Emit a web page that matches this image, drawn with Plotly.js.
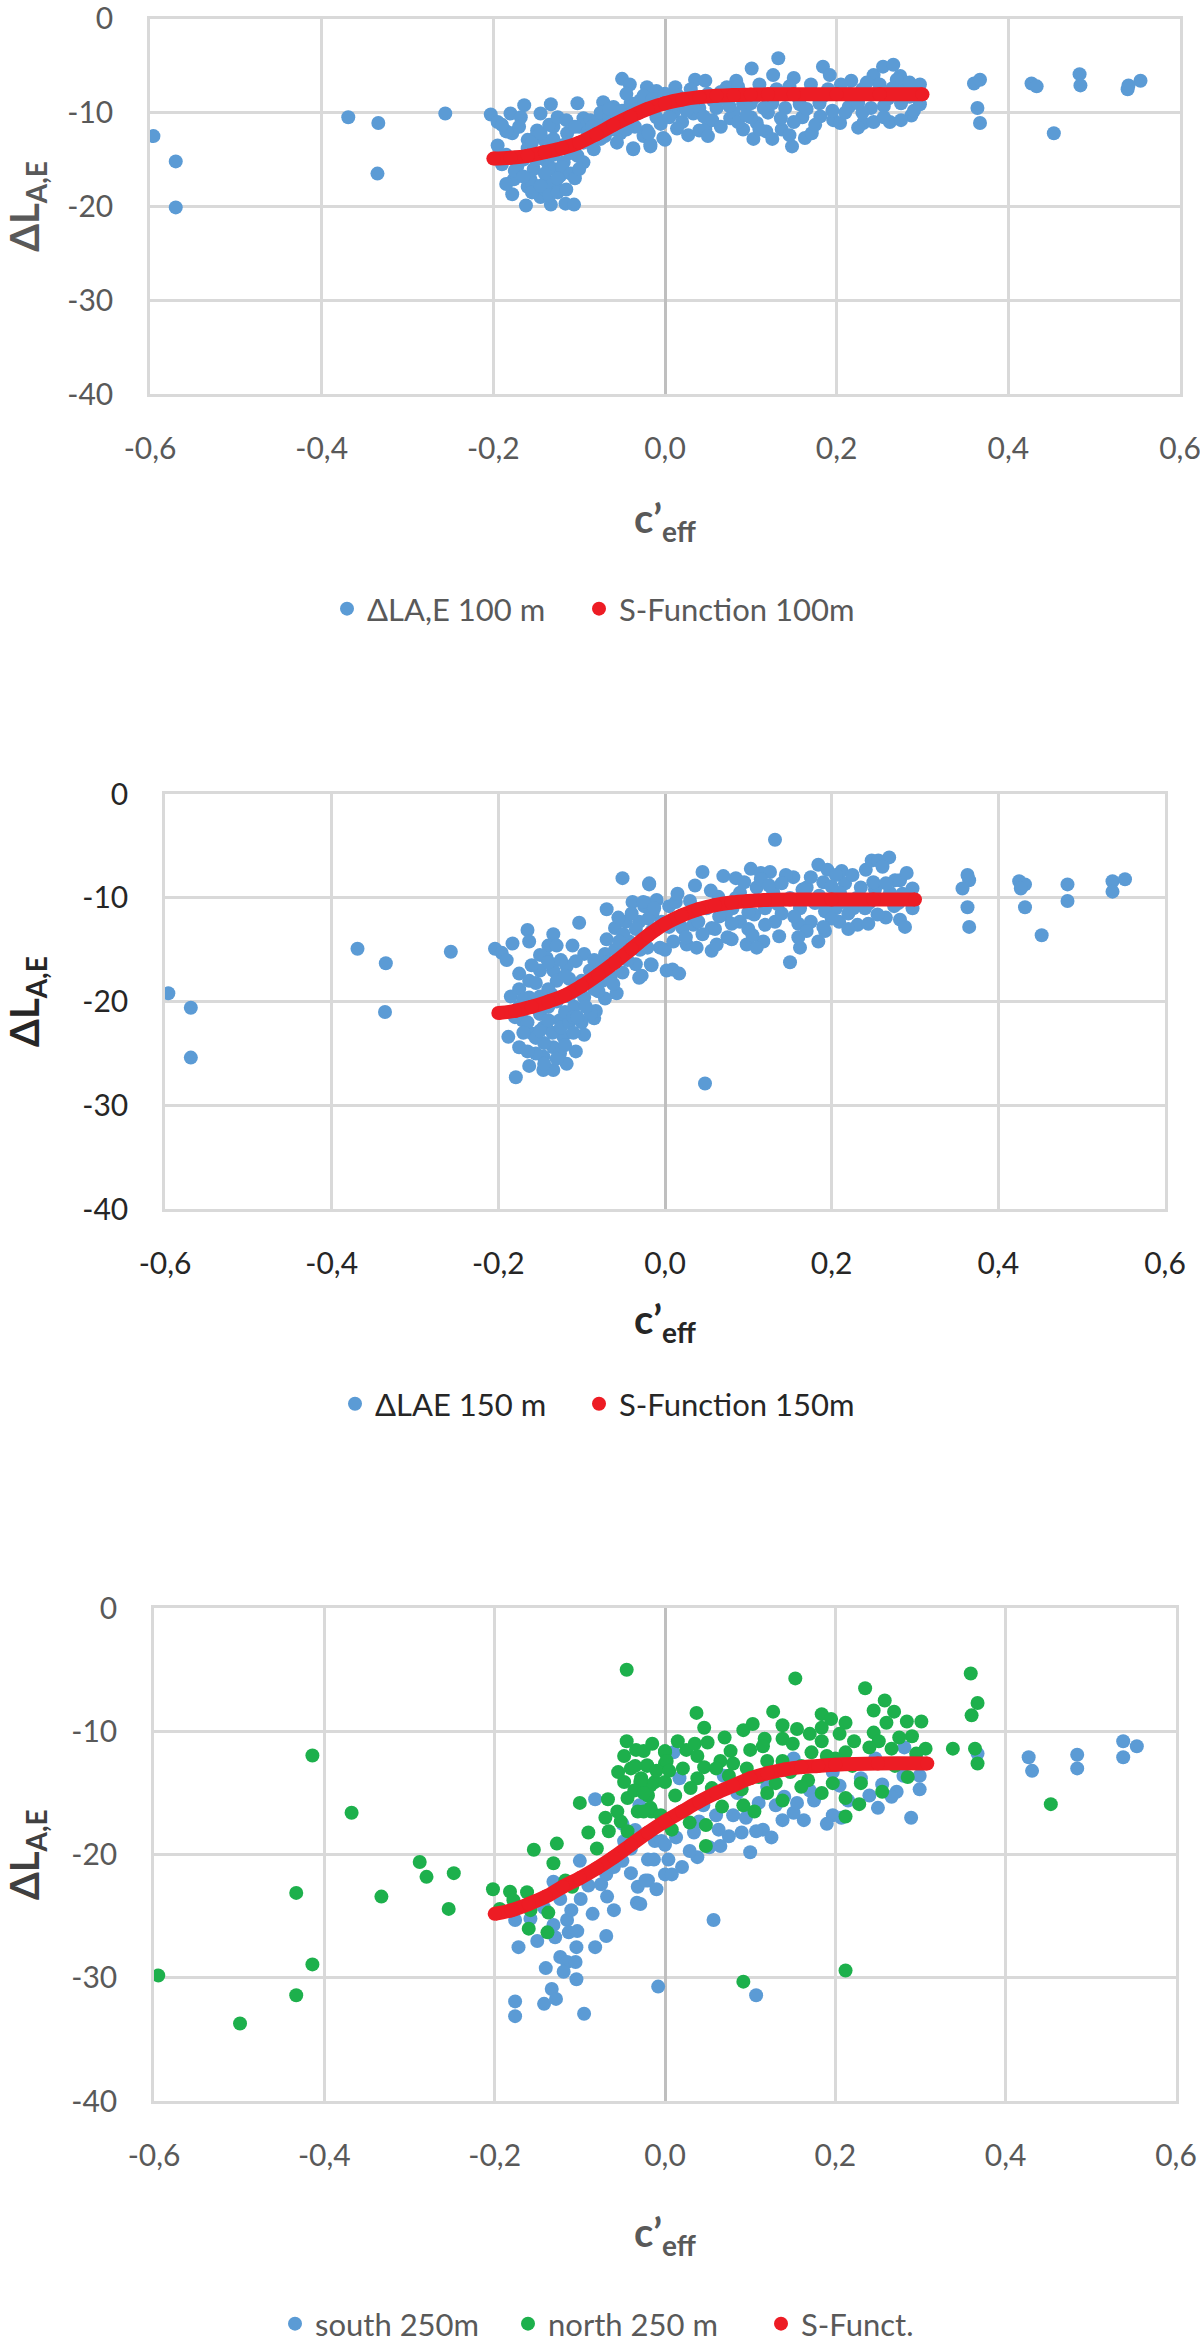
<!DOCTYPE html>
<html>
<head>
<meta charset="utf-8">
<script src="https://cdn.plot.ly/plotly-3.0.1.min.js"></script>
<style>
  html, body { margin: 0; padding: 0; background: #fff; }
  #plotly__graph { width: 1200px; height: 2351px; }
</style>
</head>
<body>
<div id="plotly__graph"></div>
<script>
// **********************************************************************************************
// DATA

const xTickVals = [-0.6, -0.4, -0.2, 0.0, 0.2, 0.4, 0.6];
const xTickText = ['-0,6', '-0,4', '-0,2', '0,0', '0,2', '0,4', '0,6'];
const yTickVals = [0, -10, -20, -30, -40];
const yTickText = ['0', '-10', '-20', '-30', '-40'];

// panel 1 : ΔLA,E 100 m  [c'eff, ΔL]
const blue100 = [
    [-0.596,-12.5],[-0.57,-15.2],[-0.57,-20.1],[-0.369,-10.5],[-0.334,-11.1],[-0.335,-16.5],[-0.256,-10.1],
    [-0.203,-10.2],[-0.195,-11.0],[-0.18,-10.1],[-0.178,-12.2],[-0.164,-9.2],[-0.168,-10.5],[-0.16,-12.9],
    [-0.145,-10.1],[-0.133,-9.1],[-0.149,-11.9],[-0.13,-11.5],[-0.114,-12.2],[-0.102,-9.0],[-0.095,-10.6],
    [-0.087,-10.8],[-0.176,-17.1],[-0.178,-18.7],[-0.162,-19.9],[-0.133,-19.8],[-0.116,-19.7],[-0.106,-19.8],
    [-0.16,-17.9],[-0.145,-19.0],[-0.128,-17.7],[-0.122,-16.7],[-0.153,-16.0],[-0.137,-15.3],[-0.145,-14.6],
    [-0.172,-15.7],[-0.118,-15.3],[-0.102,-14.6],[-0.095,-15.3],[-0.106,-13.9],[-0.114,-13.2],[-0.13,-16.0],
    [-0.137,-17.4],[-0.157,-17.1],[-0.083,-13.9],[-0.091,-12.9],[-0.072,-8.9],[-0.06,-9.4],[-0.05,-6.4],
    [-0.041,-7.0],[-0.037,-13.8],[-0.017,-13.6],[-0.021,-11.9],[-0.029,-8.7],[-0.021,-7.3],[-0.01,-7.7],
    [-0.052,-12.2],[-0.056,-13.2],[-0.068,-11.2],[-0.044,-10.5],[0.0,-12.9],[0.002,-9.1],[0.012,-7.3],
    [0.027,-12.4],[0.035,-6.5],[0.04,-11.9],
    [-0.15,-12.5],[-0.14,-13.0],[-0.13,-12.8],[-0.12,-13.5],[-0.15,-15.0],[-0.14,-16.5],[-0.13,-14.5],
    [-0.12,-15.8],[-0.11,-16.5],[-0.125,-17.0],[-0.14,-18.2],[-0.155,-17.5],[-0.16,-13.8],[-0.17,-11.5],
    [-0.185,-12.0],[-0.19,-15.5],[-0.175,-14.8],[-0.1,-11.5],[-0.09,-12.0],[-0.08,-11.0],[-0.075,-10.0],
    [-0.065,-10.5],[-0.07,-12.5],[-0.06,-11.8],[-0.05,-9.8],[-0.04,-9.0],[-0.03,-10.0],[-0.02,-9.5],
    [-0.01,-10.5],[0.0,-8.0],[0.01,-10.0],[0.02,-11.0],[-0.045,-8.0],[-0.035,-11.5],[-0.025,-12.5],
    [-0.195,-13.5],[-0.185,-14.5],[-0.175,-16.2],[-0.165,-16.8],[-0.155,-18.5],[-0.145,-17.8],[-0.135,-18.8],
    [-0.125,-18.5],[-0.115,-18.2],[-0.105,-17.0],[-0.155,-13.2],[-0.145,-12.2],[-0.135,-11.3],[-0.125,-10.5],
    [-0.115,-10.8],[-0.105,-11.5],[-0.095,-13.2],[-0.085,-11.5],[-0.075,-12.8],[-0.065,-9.6],[-0.055,-10.6],
    [-0.045,-11.8],[-0.035,-9.7],[-0.025,-8.2],[-0.015,-8.6],[-0.005,-11.2],[-0.11,-14.3],[-0.1,-16.0],
    [-0.125,-14.0],[-0.165,-15.0],[-0.185,-17.6],[-0.19,-11.3],
    [-0.037,-13.9],[-0.017,-13.4],[-0.019,-12.2],[-0.002,-12.7],[0.014,-11.7],[0.047,-6.6],[0.047,-11.8],
    [0.017,-9.1],[0.033,-10.1],[0.056,-8.7],[0.076,-10.6],[0.083,-6.6],[0.091,-11.8],[0.101,-5.3],
    [0.107,-11.1],[0.103,-12.8],[0.118,-12.0],[0.126,-6.0],[0.132,-4.2],[0.136,-11.8],[0.148,-13.6],
    [0.15,-6.3],[0.163,-12.7],[0.171,-12.2],[0.181,-10.4],[0.184,-5.1],[0.192,-6.0],[0.196,-10.8],
    [0.204,-11.1],[0.214,-9.4],[0.217,-6.6],[0.231,-11.1],[0.243,-11.0],[0.243,-6.0],[0.254,-5.1],
    [0.266,-4.9],[0.262,-11.0],[0.274,-6.1],[0.287,-10.3],[0.297,-7.0],[0.297,-9.1],[0.157,-9.1],
    [0.142,-8.0],[0.091,-9.1],[0.072,-7.3],
    [0.06,-9.5],[0.08,-10.0],[0.1,-9.0],[0.12,-8.5],[0.14,-9.5],[0.16,-10.5],[0.18,-9.0],[0.2,-8.0],
    [0.22,-8.5],[0.24,-9.5],[0.26,-8.5],[0.28,-7.5],[0.25,-7.0],[0.27,-6.5],[0.23,-7.5],[0.19,-7.5],
    [0.17,-7.0],[0.13,-7.5],[0.11,-7.0],[0.09,-8.0],[0.07,-8.5],[0.05,-8.0],[0.03,-7.5],[0.02,-8.5],
    [0.1,-10.5],[0.12,-10.0],[0.15,-11.0],[0.21,-10.0],[0.23,-10.0],[0.29,-9.8],[0.285,-8.3],
    [0.055,-10.8],[0.04,-9.5],[0.085,-11.0],[0.115,-9.5],
    [0.005,-10.5],[0.015,-8.2],[0.025,-9.8],[0.035,-8.9],[0.045,-10.4],[0.065,-7.8],[0.075,-9.3],
    [0.085,-7.2],[0.095,-10.3],[0.105,-8.3],[0.11,-11.8],[0.125,-9.0],[0.135,-10.6],[0.145,-7.2],
    [0.155,-8.4],[0.165,-9.6],[0.175,-11.3],[0.185,-8.2],[0.195,-9.8],[0.205,-7.0],[0.215,-8.0],
    [0.225,-9.0],[0.235,-6.8],[0.245,-8.0],[0.255,-9.3],[0.265,-7.4],[0.275,-9.0],[0.285,-6.8],
    [0.295,-8.0],[0.255,-10.5],[0.275,-10.8],[0.225,-11.6],[0.145,-12.4],[0.125,-12.8],[0.065,-11.5],
    [0.05,-12.5],
    [0.36,-6.9],[0.367,-6.5],[0.364,-9.5],[0.367,-11.1],[0.427,-6.9],[0.433,-7.2],[0.483,-5.9],
    [0.484,-7.1],[0.453,-12.2],[0.539,-7.5],[0.554,-6.6],[0.54,-7.1]
];

const sFuncX100 = [-0.2, -0.18, -0.16, -0.14, -0.12, -0.1, -0.08, -0.06, -0.04, -0.02, 0.0, 0.02, 0.04, 0.06, 0.08, 0.1, 0.12, 0.15, 0.2, 0.25, 0.3];
const sFuncY100 = [-14.9, -14.8, -14.6, -14.2, -13.8, -13.2, -12.3, -11.3, -10.4, -9.6, -9.0, -8.6, -8.35, -8.2, -8.12, -8.08, -8.05, -8.05, -8.05, -8.05, -8.05];

// panel 2 : ΔLAE 150 m
const blue150 = [
    [-0.596,-19.2],[-0.569,-20.6],[-0.569,-25.4],[-0.369,-14.9],[-0.335,-16.3],[-0.336,-21.0],[-0.257,-15.2],
    [-0.204,-14.9],[-0.196,-15.3],[-0.183,-14.4],[-0.165,-13.1],[-0.163,-14.2],[-0.134,-13.5],[-0.14,-14.6],
    [-0.13,-14.6],[-0.111,-14.6],[-0.103,-12.4],[-0.097,-15.4],[-0.107,-16.1],[-0.118,-16.6],[-0.115,-17.8],
    [-0.175,-17.3],[-0.163,-18.0],[-0.15,-17.0],[-0.134,-17.0],[-0.142,-15.8],[-0.163,-19.6],[-0.136,-19.3],
    [-0.188,-23.4],[-0.175,-24.4],[-0.163,-26.2],[-0.179,-27.3],[-0.146,-26.6],[-0.134,-26.6],[-0.118,-26.0],
    [-0.107,-24.8],[-0.097,-23.2],[-0.085,-21.6],[-0.083,-20.9],[-0.072,-19.7],[-0.058,-19.2],[-0.171,-21.8],
    [-0.159,-23.1],[-0.146,-22.5],[-0.126,-21.8],[-0.122,-23.4],[-0.134,-24.4],[-0.146,-25.3],[-0.126,-25.0],
    [-0.15,-21.2],[-0.109,-20.5],[-0.097,-19.6],[-0.089,-21.2],[-0.072,-15.4],[-0.07,-14.0],[-0.07,-11.1],
    [-0.06,-12.9],[-0.051,-8.1],[-0.019,-8.7],[-0.039,-10.4],[-0.023,-10.5],[-0.051,-17.2],[-0.031,-17.7],
    [-0.016,-16.5],[-0.035,-16.4],[-0.043,-14.2],[-0.006,-14.8],[-0.016,-13.2],[-0.031,-12.3],[0.002,-17.0],
    [-0.047,-12.3],[-0.056,-11.9],
    [-0.165,-22.0],[-0.155,-23.5],[-0.145,-24.0],[-0.135,-23.0],[-0.125,-22.5],[-0.115,-22.0],[-0.16,-20.5],
    [-0.15,-19.5],[-0.14,-20.5],[-0.13,-20.0],[-0.12,-21.0],[-0.11,-21.5],[-0.105,-19.0],[-0.1,-18.0],
    [-0.09,-17.0],[-0.085,-16.0],[-0.08,-19.0],[-0.075,-18.0],[-0.065,-17.5],[-0.06,-15.0],[-0.05,-13.5],
    [-0.04,-11.5],[-0.035,-13.0],[-0.025,-10.8],[-0.015,-11.5],[-0.01,-13.0],[0.005,-10.8],[0.015,-12.2],
    [-0.155,-25.0],[-0.145,-26.0],[-0.17,-23.0],[-0.18,-21.5],[-0.13,-18.0],[-0.12,-17.5],[-0.16,-16.5],
    [-0.15,-15.5],[-0.14,-16.2],[-0.175,-18.8],
    [-0.19,-16.0],[-0.185,-19.5],[-0.175,-20.5],[-0.165,-24.8],[-0.15,-22.8],[-0.14,-21.8],[-0.13,-25.5],
    [-0.12,-24.2],[-0.11,-23.0],[-0.1,-22.0],[-0.095,-20.5],[-0.085,-18.8],[-0.078,-16.8],[-0.07,-16.2],
    [-0.062,-18.3],[-0.055,-14.2],[-0.045,-16.0],[-0.03,-15.0],[-0.02,-12.0],[-0.01,-10.2],[-0.14,-18.8],
    [-0.155,-18.2],[-0.17,-19.8],[-0.125,-16.0],[-0.115,-19.5],[-0.105,-21.5],
    [-0.019,-8.6],[-0.026,-10.4],[-0.013,-11.0],[-0.017,-16.4],[-0.028,-17.5],[0.009,-16.9],[0.017,-17.3],
    [0.0,-15.0],[-0.021,-14.8],[0.036,-8.8],[0.045,-7.5],[0.048,-27.9],[0.013,-10.4],[0.026,-14.5],
    [0.038,-14.8],[0.056,-15.1],[0.062,-14.5],[0.056,-12.9],[0.034,-12.6],[0.064,-9.9],[0.085,-8.1],
    [0.103,-7.2],[0.115,-7.6],[0.126,-7.5],[0.132,-4.4],[0.098,-14.5],[0.118,-14.2],[0.137,-13.7],
    [0.15,-16.2],[0.162,-14.8],[0.154,-8.0],[0.145,-7.8],[0.184,-6.8],[0.184,-14.2],[0.192,-13.2],
    [0.212,-7.4],[0.216,-8.6],[0.205,-11.0],[0.209,-12.3],[0.231,-12.6],[0.244,-12.5],[0.241,-7.3],
    [0.248,-6.4],[0.256,-6.4],[0.269,-6.1],[0.261,-7.0],[0.276,-8.3],[0.282,-8.3],[0.252,-9.2],
    [0.265,-11.9],[0.282,-12.1],[0.288,-12.8],[0.297,-9.1],[0.297,-11.0],[0.107,-11.6],[0.132,-12.3],
    [0.162,-11.0],[0.081,-11.0],[0.09,-12.3],[0.073,-11.6],[0.021,-12.9],[-0.004,-12.3],[0.175,-12.3],
    [0.192,-11.3],[0.226,-11.0],
    [0.03,-11.5],[0.05,-11.0],[0.07,-10.5],[0.09,-9.5],[0.11,-9.0],[0.13,-9.5],[0.15,-10.0],[0.17,-9.0],
    [0.19,-8.5],[0.21,-9.5],[0.23,-10.0],[0.25,-8.5],[0.27,-9.5],[0.06,-13.0],[0.08,-12.5],[0.1,-13.0],
    [0.12,-11.0],[0.14,-11.5],[0.16,-12.5],[0.18,-10.5],[0.2,-12.0],[0.22,-11.5],[0.24,-11.0],[0.28,-10.5],
    [0.115,-8.2],[0.095,-8.5],[0.175,-8.0],[0.195,-7.3],[0.205,-7.8],[0.045,-13.5],[0.025,-13.8],[0.01,-14.2],
    [0.005,-12.8],[0.015,-9.6],[0.03,-10.3],[0.04,-12.3],[0.055,-9.3],[0.065,-11.8],[0.075,-13.8],
    [0.085,-10.0],[0.1,-11.4],[0.105,-13.6],[0.12,-12.6],[0.125,-8.8],[0.135,-10.6],[0.14,-8.6],
    [0.155,-11.8],[0.165,-9.2],[0.17,-13.2],[0.185,-9.8],[0.19,-12.8],[0.2,-8.9],[0.215,-10.4],
    [0.22,-13.0],[0.225,-7.8],[0.235,-9.0],[0.245,-10.5],[0.255,-11.6],[0.265,-8.6],[0.275,-10.8],
    [0.285,-9.6],[0.29,-7.6],[0.16,-13.8],[0.11,-14.8],[0.08,-14.0],[0.07,-7.9],
    [0.363,-7.8],[0.365,-8.3],[0.357,-9.1],[0.363,-10.9],[0.365,-12.8],[0.425,-8.4],[0.432,-8.7],
    [0.427,-9.1],[0.432,-10.9],[0.452,-13.6],[0.483,-8.7],[0.483,-10.3],[0.537,-8.4],[0.537,-9.4],
    [0.552,-8.2]
];

const sFuncX150 = [-0.2, -0.18, -0.16, -0.14, -0.12, -0.1, -0.08, -0.06, -0.04, -0.02, 0.0, 0.02, 0.04, 0.06, 0.08, 0.1, 0.12, 0.15, 0.2, 0.25, 0.3];
const sFuncY150 = [-21.1, -20.9, -20.5, -20.0, -19.4, -18.5, -17.4, -16.2, -14.9, -13.6, -12.5, -11.7, -11.1, -10.7, -10.45, -10.3, -10.2, -10.15, -10.15, -10.15, -10.15];

// panel 3 : south 250m / north 250 m
const south250 = [
    [-0.082,-15.5],[-0.131,-22.2],[-0.123,-23.6],[-0.099,-23.6],[-0.069,-21.6],[-0.068,-23.4],[-0.033,-23.9],
    [-0.032,-22.6],[-0.02,-22.1],[-0.02,-20.4],[-0.012,-18.9],[-0.048,-18.9],[-0.176,-25.3],[-0.172,-27.5],
    [-0.158,-25.2],[-0.131,-25.7],[-0.129,-26.7],[-0.115,-25.3],[-0.113,-26.3],[-0.103,-26.2],[-0.104,-27.5],
    [-0.082,-27.5],[-0.069,-26.6],[-0.123,-28.3],[-0.115,-28.7],[-0.105,-28.7],[-0.14,-29.2],[-0.119,-29.5],
    [-0.104,-30.1],[-0.133,-30.9],[-0.128,-31.7],[-0.142,-32.1],[-0.176,-31.9],[-0.176,-33.1],[-0.095,-32.9],
    [-0.008,-30.7],[0.0,-21.6],[-0.142,-24.3],
    [0.107,-31.4],[0.057,-25.3],[0.289,-17.0],[0.299,-14.7],[0.299,-13.6],[0.281,-11.3],[0.272,-14.9],
    [0.266,-15.3],[0.197,-16.8],[0.207,-17.0],[0.163,-17.2],[0.151,-16.6],[0.138,-17.2],[0.13,-16.0],
    [0.115,-17.97],[0.107,-18.1],[0.09,-18.2],[0.1,-19.8],[0.063,-17.97],[0.065,-19.3],[0.052,-19.4],
    [0.038,-20.2],[0.029,-19.7],[0.034,-18.2],[0.008,-21.6],[0.004,-20.4],[-0.013,-20.4],[-0.023,-22.1],
    [-0.029,-24.0],[-0.004,-18.9],[0.013,-18.6],[0.069,-13.6],[0.08,-16.8],[0.151,-12.2],[0.197,-13.3],
    [0.205,-14.4],[0.017,-13.8],[0.01,-11.7],[0.247,-12.2],
    [-0.05,-17.5],[-0.04,-19.5],[-0.03,-16.0],[-0.06,-21.0],[-0.09,-22.5],[-0.11,-24.5],[-0.15,-27.0],
    [0.02,-16.5],[0.045,-16.0],[0.085,-15.0],[0.12,-14.5],[0.17,-14.8],[0.23,-13.8],[0.25,-16.2],
    [-0.1,-20.5],[-0.085,-24.8],[-0.075,-22.4],[-0.06,-24.5],[-0.05,-20.5],[-0.04,-21.5],[-0.035,-18.0],
    [-0.01,-22.8],[0.0,-19.2],[0.02,-21.0],[0.04,-17.3],[0.06,-16.8],[0.075,-18.5],[0.095,-17.0],
    [0.11,-15.8],[0.125,-18.6],[0.14,-15.3],[0.155,-15.8],[0.175,-15.6],[0.19,-17.5],[0.215,-15.6],
    [0.24,-15.2],[0.255,-14.3],[0.28,-13.6],[0.295,-12.2],
    [0.427,-12.1],[0.431,-13.2],[0.484,-11.9],[0.484,-13.0],[0.538,-10.8],[0.538,-12.1],[0.554,-11.2],
    [0.367,-11.8]
];

const north250 = [
    [-0.045,-5.0],[-0.414,-11.95],[-0.368,-16.6],[-0.433,-23.1],[-0.333,-23.4],[-0.288,-20.6],[-0.28,-21.8],
    [-0.248,-21.5],[-0.254,-24.4],[-0.414,-28.9],[-0.595,-29.8],[-0.433,-31.4],[-0.499,-33.7],
    [-0.202,-22.8],[-0.182,-23.0],[-0.162,-23.05],[-0.154,-19.6],[-0.127,-19.1],[-0.131,-20.7],[-0.117,-22.1],
    [-0.16,-26.0],[-0.138,-26.3],[-0.137,-24.7],[-0.158,-24.5],[-0.194,-24.4],[-0.178,-23.7],[-0.1,-15.8],
    [-0.067,-15.5],[-0.066,-18.1],[-0.048,-12.0],[-0.034,-11.5],[-0.021,-12.75],[0.0,-11.6],[0.0,-12.6],
    [-0.048,-14.1],[-0.028,-13.8],[-0.012,-14.1],[-0.056,-16.5],[-0.044,-15.4],[-0.032,-16.5],[-0.02,-15.2],
    [-0.052,-17.3],[-0.044,-18.1],[-0.016,-16.5],[-0.109,-22.6],
    [0.153,-5.7],[0.235,-6.5],[0.359,-5.3],[0.367,-7.7],[0.36,-8.7],[0.364,-11.4],[0.367,-12.6],[0.338,-11.4],
    [0.453,-15.9],[0.212,-29.4],[0.092,-30.3],[0.037,-8.5],[0.046,-9.7],[0.127,-8.4],[0.103,-9.4],
    [0.092,-9.9],[0.138,-9.5],[0.155,-9.8],[0.117,-10.6],[0.138,-10.6],[0.184,-8.6],[0.195,-9.0],
    [0.184,-9.7],[0.212,-9.3],[0.184,-10.8],[0.245,-8.3],[0.258,-7.5],[0.269,-8.4],[0.284,-9.2],
    [0.301,-9.2],[0.245,-10.1],[0.251,-10.8],[0.266,-11.4],[0.306,-11.4],[0.222,-10.8],[0.212,-11.7],
    [0.172,-11.7],[0.025,-11.5],[0.0,-11.7],[-0.025,-11.6],[0.002,-12.4],[0.038,-12.0],[0.065,-12.4],
    [0.077,-11.6],[0.1,-11.5],[0.12,-12.4],[0.138,-12.4],[0.046,-12.9],[0.021,-13.0],[-0.021,-12.8],
    [-0.017,-14.4],[0.0,-14.1],[0.038,-13.8],[0.075,-13.6],[0.096,-13.0],[0.147,-13.3],[0.168,-13.96],
    [0.197,-14.2],[0.23,-14.2],[0.255,-14.9],[0.285,-13.7],[0.184,-15.0],[0.212,-15.4],[0.228,-15.9],
    [0.212,-16.9],[0.138,-15.6],[0.12,-15.0],[0.105,-16.5],[0.092,-16.0],[0.067,-16.1],[0.048,-17.6],
    [0.029,-17.4],[0.008,-17.97],[-0.017,-16.2],[-0.025,-16.5],[0.048,-19.3],[-0.029,-14.1],
    [-0.04,-13.0],[-0.036,-14.8],[-0.01,-13.2],[0.012,-15.2],[0.03,-14.6],[0.055,-14.6],[0.085,-14.4],
    [0.11,-13.7],[0.16,-12.8],[0.2,-12.2],[0.27,-12.8],[0.29,-10.4],
    [-0.055,-13.3],[-0.045,-10.8],[-0.035,-12.8],[-0.025,-15.0],[-0.015,-11.0],[-0.005,-16.8],[0.005,-13.2],
    [0.015,-10.8],[0.035,-11.0],[0.05,-10.9],[0.06,-13.0],[0.07,-10.5],[0.08,-12.6],[0.09,-14.7],
    [0.115,-11.2],[0.13,-14.2],[0.15,-11.0],[0.16,-14.5],[0.17,-10.2],[0.19,-12.0],[0.205,-10.2],
    [0.22,-12.8],[0.24,-11.3],[0.26,-9.3],[0.275,-10.5],[0.295,-11.8],[-0.07,-17.0],[-0.08,-19.5],
    [-0.09,-18.2]
];

const sFuncX250 = [-0.2, -0.18, -0.16, -0.14, -0.12, -0.1, -0.08, -0.06, -0.04, -0.02, 0.0, 0.02, 0.04, 0.06, 0.08, 0.1, 0.12, 0.14, 0.16, 0.18, 0.2, 0.25, 0.308];
const sFuncY250 = [-24.8, -24.5, -24.0, -23.4, -22.6, -21.9, -21.1, -20.2, -19.2, -18.2, -17.3, -16.5, -15.7, -15.0, -14.4, -13.8, -13.4, -13.1, -12.9, -12.8, -12.7, -12.6, -12.6];

const plotly_graph = () => {
    // **********************************************************************************************
    // PARENT / CHILD

    const div = document.getElementById('plotly__graph');

    const W = 1200, H = 2351;
    const FONT = 'Lato, "Open Sans", "DejaVu Sans", sans-serif';
    const GREY = '#595959';
    const DARK = '#262626';
    const BLUE = 'rgb(91, 155, 213)';
    const GREEN = 'rgb(29, 176, 76)';
    const RED = 'rgb(237, 28, 36)';

    const xDom = (l, r) => [l / W, r / W];
    const yDom = (t, b) => [1 - b / H, 1 - t / H];

    // **********************************************************************************************
    // TRACES

    // entry = width (px) kept for the text of a legend entry, so the next entry sits where Excel put it
    const dots = (pts, name, color, xa, ya, legend, entry) => ({
        type: 'scatter', mode: 'markers', name: name,
        x: pts.map(p => p[0]), y: pts.map(p => p[1]),
        xaxis: xa, yaxis: ya, legend: legend, legendwidth: entry,
        marker: { color: color, size: 14, line: { width: 0 } },
        hoverinfo: 'skip'
    });

    const sLine = (xs, ys, xa, ya, legend) => ({
        type: 'scatter', mode: 'lines', x: xs, y: ys, xaxis: xa, yaxis: ya,
        legend: legend, showlegend: false,
        line: { color: RED, width: 14, shape: 'spline' },
        hoverinfo: 'skip'
    });

    const sDots = (xs, ys, name, xa, ya, legend) => ({
        type: 'scatter', mode: 'markers', name: name, x: xs, y: ys, xaxis: xa, yaxis: ya,
        legend: legend,
        marker: { color: RED, size: 14, line: { width: 0 } },
        hoverinfo: 'skip'
    });

    const data = [
        dots(blue100, 'ΔLA,E 100 m', BLUE, 'x', 'y', 'legend', 207),
        sLine(sFuncX100, sFuncY100, 'x', 'y', 'legend'),
        sDots(sFuncX100, sFuncY100, 'S-Function 100m', 'x', 'y', 'legend'),

        dots(blue150, 'ΔLAE 150 m', BLUE, 'x2', 'y2', 'legend2', 199),
        sLine(sFuncX150, sFuncY150, 'x2', 'y2', 'legend2'),
        sDots(sFuncX150, sFuncY150, 'S-Function 150m', 'x2', 'y2', 'legend2'),

        dots(south250, 'south 250m', BLUE, 'x3', 'y3', 'legend3', 188),
        dots(north250, 'north 250 m', GREEN, 'x3', 'y3', 'legend3', 208),
        sLine(sFuncX250, sFuncY250, 'x3', 'y3', 'legend3'),
        sDots(sFuncX250, sFuncY250, 'S-Funct.', 'x3', 'y3', 'legend3')
    ];

    // **********************************************************************************************
    // LAYOUT

    const xAxis = (dom, anchor, color, standoff) => ({
        domain: dom, anchor: anchor,
        range: [-0.6, 0.6], fixedrange: true,
        tickmode: 'array', tickvals: xTickVals, ticktext: xTickText,
        ticks: '', ticklabelstandoff: 26, ticklabeloverflow: 'allow',
        tickfont: { family: FONT, size: 30, color: color },
        showgrid: true, gridcolor: '#D9D9D9', gridwidth: 2.5,
        zeroline: true, zerolinecolor: '#BFBFBF', zerolinewidth: 3,
        showline: true, mirror: true, linecolor: '#D9D9D9', linewidth: 2.5,
        title: {
            text: '<b>c’<sub>eff</sub></b>',
            font: { family: FONT, size: 40, color: color },
            standoff: standoff
        }
    });

    const yAxis = (dom, anchor, tickColor, titleColor, standoff) => ({
        domain: dom, anchor: anchor,
        range: [-40, 0], fixedrange: true,
        tickmode: 'array', tickvals: yTickVals, ticktext: yTickText,
        ticks: '', ticklabelstandoff: 28, ticklabeloverflow: 'allow',
        tickfont: { family: FONT, size: 30, color: tickColor },
        showgrid: true, gridcolor: '#D9D9D9', gridwidth: 2.5,
        zeroline: false,
        showline: true, mirror: true, linecolor: '#D9D9D9', linewidth: 2.5,
        title: {
            text: '<b>ΔL<sub>A,E</sub></b>',
            font: { family: FONT, size: 40, color: titleColor },
            standoff: standoff
        }
    });

    const legendBox = (x, y, color) => ({
        orientation: 'h', x: x / W, xanchor: 'left', y: 1 - y / H, yanchor: 'middle',
        font: { family: FONT, size: 31, color: color },
        bgcolor: 'rgba(0,0,0,0)', itemclick: false, itemdoubleclick: false
    });

    const layout = {
        width: W, height: H,
        margin: { t: 0, r: 0, b: 0, l: 0, pad: 0 },
        paper_bgcolor: '#ffffff', plot_bgcolor: '#ffffff',
        dragmode: false, hovermode: false,

        xaxis:  xAxis(xDom(150, 1180), 'y',  GREY, 42),
        yaxis:  yAxis(yDom(19, 398), 'x',  GREY, GREY, 47),
        xaxis2: xAxis(xDom(165, 1165), 'y2', DARK, 28),
        yaxis2: yAxis(yDom(802, 1221), 'x2', DARK, DARK, 32),
        xaxis3: xAxis(xDom(154, 1176), 'y3', GREY, 49),
        yaxis3: yAxis(yDom(1624, 2122), 'x3', GREY, '#404040', 32),

        showlegend: true,
        legend:  legendBox(327, 615, GREY),
        legend2: legendBox(335, 1418, DARK),
        legend3: legendBox(275, 2347, GREY)
    };

    // **********************************************************************************************
    // CONFIG

    const config = {
        responsive: false,
        displaylogo: false,
        displayModeBar: false
    };

    // **********************************************************************************************
    // CREATE AND APPEND

    Plotly.newPlot(div, data, layout, config);
};

plotly_graph();
</script>
</body>
</html>
